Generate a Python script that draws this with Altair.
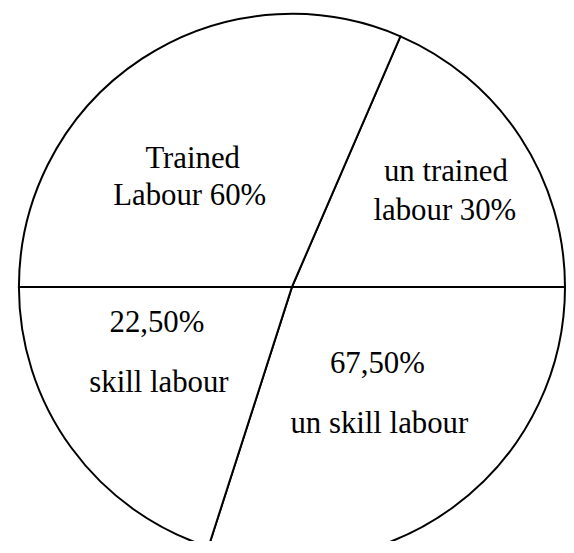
import math
import altair as alt
import pandas as pd

# ---- data ----
segments = ["un trained labour 30%", "un skill labour 67,50%", "skill labour 22,50%", "Trained Labour 60%"]
sector_degrees = [66.6, 107.8, 72.2, 113.4]   # drawn sector sizes (clockwise)
segment_order = [1, 2, 3, 4]
start_degree = 23.4                            # first divider, clockwise from 12 o'clock

label_text = ["Trained", "Labour 60%", "un trained", "labour 30%",
              "22,50%", "skill labour", "67,50%", "un skill labour"]

# ---- layout (label anchor pixels, not data) ----
label_px = [186, 183, 441, 440, 150, 152, 372, 374]
label_py = [159, 197, 172, 212, 324, 385, 366, 426]

pie_df = pd.DataFrame({"segment": segments, "deg": sector_degrees, "ord": segment_order})
lab_df = pd.DataFrame({"text": label_text, "px": label_px, "py": label_py})

start = math.radians(start_degree)

pie = alt.Chart(pie_df).mark_arc(
    radius=275, fill="white", stroke="black", strokeWidth=2
).encode(
    theta=alt.Theta("deg:Q", stack=True, scale=alt.Scale(range=[start, start + 2 * math.pi])),
    order=alt.Order("ord:Q"),
    x=alt.value(286),
    y=alt.value(279),
)

labels = alt.Chart(lab_df).mark_text(
    font="Liberation Serif", fontSize=31, color="black", align="center", baseline="alphabetic"
).encode(
    x=alt.X("px:Q", scale=None),
    y=alt.Y("py:Q", scale=None),
    text="text:N",
)

chart = alt.layer(pie, labels).properties(
    width=562, height=533, padding=0, autosize=alt.AutoSizeParams(type="none")
).configure_view(stroke=None)

chart.save("out.html", embed_options={"renderer": "svg", "actions": False})
